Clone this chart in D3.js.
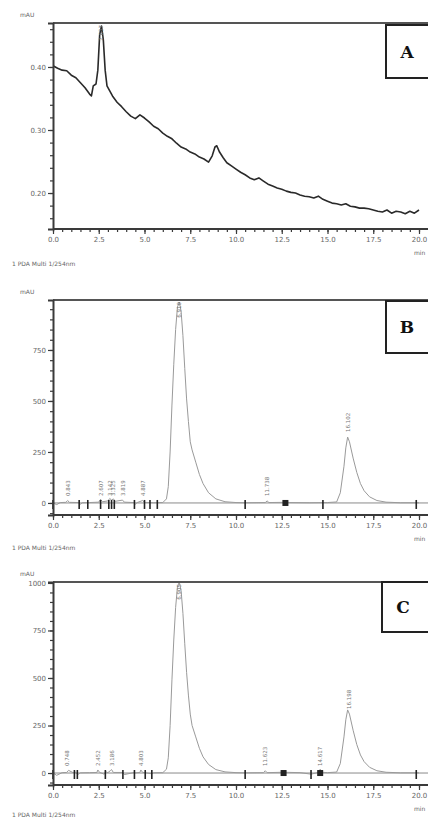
<!DOCTYPE html>
<html><head><meta charset="utf-8">
<script src="https://cdn.jsdelivr.net/npm/d3@7"></script>
<style>body{margin:0;background:#fff}svg{display:block}</style>
</head><body>
<script>
// ---------- DATA ----------
const timeTicks = [0, 2.5, 5, 7.5, 10, 12.5, 15, 17.5, 20];
const timeTickLabels = ["0.0","2.5","5.0","7.5","10.0","12.5","15.0","17.5","20.0"];

const timeA = [0,0.25,0.5,0.75,1,1.25,1.5,1.75,2,2.1,2.2,2.35,2.45,2.55,2.65,2.75,2.85,2.95,3.1,3.25,3.5,3.75,4,4.25,4.5,4.75,5,5.25,5.5,5.75,6,6.25,6.5,6.75,7,7.25,7.5,7.75,8,8.25,8.5,8.7,8.85,8.95,9.1,9.3,9.5,9.75,10,10.25,10.5,10.75,11,11.25,11.5,11.75,12,12.25,12.5,12.75,13,13.25,13.5,13.75,14,14.25,14.5,14.75,15,15.25,15.5,15.75,16,16.25,16.5,16.75,17,17.25,17.5,17.75,18,18.25,18.5,18.75,19,19.25,19.5,19.75,20];
const absA = [0.402,0.398,0.395,0.394,0.387,0.383,0.375,0.367,0.357,0.354,0.370,0.373,0.395,0.451,0.465,0.443,0.395,0.370,0.362,0.354,0.344,0.337,0.329,0.322,0.318,0.324,0.319,0.313,0.306,0.302,0.295,0.290,0.286,0.279,0.273,0.270,0.265,0.262,0.257,0.254,0.249,0.259,0.273,0.275,0.265,0.256,0.248,0.243,0.238,0.233,0.229,0.224,0.221,0.224,0.219,0.214,0.211,0.208,0.206,0.203,0.201,0.200,0.197,0.195,0.194,0.192,0.195,0.190,0.187,0.184,0.183,0.181,0.183,0.179,0.178,0.176,0.176,0.175,0.173,0.171,0.170,0.173,0.168,0.171,0.170,0.167,0.171,0.168,0.173];
const yTicksA = [0.20, 0.30, 0.40];
const yTickLabelsA = ["0.20","0.30","0.40"];
const peakTimesA = [2.63];
const peakLabelsA = ["2.637"];

const timeB = [0,0.2,0.4,0.7,0.8,0.9,1.4,1.5,1.6,2.0,2.5,2.6,2.7,3.0,3.1,3.2,3.3,3.4,3.8,3.9,4.4,4.5,4.6,4.9,5.0,5.5,6.0,6.2,6.3,6.4,6.5,6.6,6.7,6.8,6.9,7.0,7.1,7.2,7.3,7.4,7.5,7.6,7.8,8.0,8.2,8.5,8.9,9.4,10.0,10.5,11.6,11.7,11.8,12.6,12.7,12.9,14.0,15.0,15.5,15.7,15.9,16.0,16.1,16.2,16.4,16.6,16.8,17.0,17.3,17.7,18.2,19.0,20.0];
const absB = [0,-8,2,3,12,3,2,-6,1,2,4,18,6,10,22,14,20,8,14,4,2,-6,2,12,3,1,2,20,80,250,480,680,850,960,985,940,820,660,510,400,300,260,200,140,95,50,20,6,2,1,2,10,2,3,6,2,1,2,5,50,180,270,323,300,220,150,95,60,30,12,4,1,1];
const yTicksB = [0, 250, 500, 750];
const peakTimesB = [0.8, 2.6, 3.1, 3.3, 3.8, 4.9, 6.9, 11.7, 16.1];
const peakLabelsB = ["0.843","2.607","3.142","3.325","3.819","4.887","6.910","11.738","16.102"];
const markerTimesB = [0, 1.43, 1.9, 2.6, 3.05, 3.2, 3.35, 4.45, 5.0, 5.3, 5.7, 10.5, 14.75, 19.85];
const blobTimesB = [12.7];

const timeC = [0,0.2,0.5,0.75,0.85,1.1,1.2,1.35,1.5,2.0,2.4,2.45,2.55,2.8,2.9,3.0,3.15,3.2,3.3,3.8,3.9,4.4,4.5,4.75,4.8,4.9,5.0,5.4,5.5,6.0,6.2,6.3,6.4,6.5,6.6,6.7,6.8,6.9,7.0,7.1,7.2,7.3,7.4,7.5,7.6,7.8,8.0,8.2,8.5,8.9,9.4,10.0,10.5,11.5,11.6,11.7,12.6,13.5,14.1,14.5,14.6,14.7,15.0,15.5,15.7,15.9,16.0,16.1,16.2,16.4,16.6,16.8,17.0,17.3,17.7,18.2,19.0,20.0];
const absC = [0,-12,2,3,14,2,8,-8,1,2,3,16,3,-6,6,2,14,18,3,3,-8,2,1,3,16,3,2,-4,1,2,20,80,250,490,700,870,980,1005,960,840,680,530,410,310,250,190,130,85,45,18,6,2,1,2,12,2,4,2,-6,3,20,4,2,5,50,190,280,332,310,225,150,95,60,30,12,4,1,1];
const yTicksC = [0, 250, 500, 750, 1000];
const peakTimesC = [0.75, 2.45, 3.2, 4.8, 6.9, 11.6, 14.6, 16.2];
const peakLabelsC = ["0.748","2.452","3.186","4.803","6.905","11.623","14.617","16.198"];
const markerTimesC = [0, 1.17, 1.33, 2.86, 3.82, 4.45, 5.04, 5.4, 10.5, 14.1, 19.85];
const blobTimesC = [12.6, 14.6];

const panelLetters = ["A","B","C"];
const detectorLabel = "1 PDA Multi 1/254nm";
const yUnit = "mAU";
const xUnit = "min";

// ---------- DRAW ----------
const W = 428, H = 820;
const svg = d3.select("body").append("svg").attr("width", W).attr("height", H);
const font = "'DejaVu Sans', Arial, sans-serif";
const axisCol = "#3a3a3a", labCol = "#666";

const panels = [
  {letter: panelLetters[0], t: timeA, v: absA, top: 23, bottom: 229, dom: [0.1429, 0.4698],
   yt: yTicksA, ytl: yTickLabelsA, minorStep: 0.02, trace: "#2a2a2a", tw: 1.6, baseline: false,
   pk: peakTimesA, pkl: peakLabelsA, mk: [], blob: [], letterBox: [386, 25, 52, 53], unitY: 17, detY: 266},
  {letter: panelLetters[1], t: timeB, v: absB, top: 300, bottom: 515, dom: [-59, 995],
   yt: yTicksB, ytl: yTicksB.map(String), minorStep: 50, trace: "#9a9a9a", tw: 1, baseline: true,
   pk: peakTimesB, pkl: peakLabelsB, mk: markerTimesB, blob: blobTimesB, letterBox: [386, 301, 52, 52], unitY: 294, detY: 550},
  {letter: panelLetters[2], t: timeC, v: absC, top: 582, bottom: 785, dom: [-63, 1005],
   yt: yTicksC, ytl: yTicksC.map(String), minorStep: 50, trace: "#9a9a9a", tw: 1, baseline: true,
   pk: peakTimesC, pkl: peakLabelsC, mk: markerTimesC, blob: blobTimesC, letterBox: [382, 582, 56, 50], unitY: 576, detY: 817}
];

panels.forEach((p, idx) => {
  const g = svg.append("g");
  const x = d3.scaleLinear().domain([0, 20]).range([53, 419]);
  const y = d3.scaleLinear().domain(p.dom).range([p.bottom, p.top]);

  const clipId = "clip" + idx;
  svg.append("clipPath").attr("id", clipId).append("rect")
    .attr("x", 53).attr("y", p.top).attr("width", W - 53).attr("height", p.bottom - p.top);

  if (p.baseline) {
    g.append("line").attr("x1", 53).attr("x2", W).attr("y1", y(0)).attr("y2", y(0))
      .attr("stroke", "#8a8a8a").attr("stroke-width", 1);
  }

  const data = p.t.map((t, i) => [t, p.v[i]]);
  g.append("path").datum(data)
    .attr("clip-path", `url(#${clipId})`)
    .attr("d", d3.line().x(d => x(d[0])).y(d => y(d[1])))
    .attr("fill", "none").attr("stroke", p.trace).attr("stroke-width", p.tw)
    .attr("stroke-linejoin", "round");

  p.mk.forEach(t => {
    g.append("line").attr("x1", x(t)).attr("x2", x(t)).attr("y1", y(0) - 3).attr("y2", y(0) + 6)
      .attr("stroke", "#222").attr("stroke-width", 1.6);
  });
  p.blob.forEach(t => {
    g.append("rect").attr("x", x(t) - 3).attr("y", y(0) - 3).attr("width", 6).attr("height", 6)
      .attr("fill", "#222");
  });

  p.pk.forEach((t, i) => {
    let idxNear = d3.leastIndex(p.t, tt => Math.abs(tt - t));
    const val = p.v[idxNear];
    const yy = y(val);
    let anchorY, anchor;
    if (yy - 22 < p.top) { anchorY = p.top + 2; anchor = "end"; }
    else { anchorY = Math.min(yy, y(0)) - 5; anchor = "start"; }
    if (p.baseline && val < 60) { anchorY = y(0) - 7; anchor = "start"; }
    g.append("text").attr("transform", `translate(${x(t) + 2},${anchorY}) rotate(-90)`)
      .attr("text-anchor", anchor).attr("font-family", font).attr("font-size", 5.5)
      .attr("fill", "#777").text(p.pkl[i]);
  });

  g.append("line").attr("x1", 53).attr("x2", W).attr("y1", p.top).attr("y2", p.top)
    .attr("stroke", "#555").attr("stroke-width", 2);

  const xMinor = d3.range(0, 20.01, 0.5);
  g.append("g").attr("transform", `translate(0,${p.bottom})`)
    .call(d3.axisBottom(x).tickValues(xMinor).tickSize(3).tickFormat(""))
    .call(s => { s.select(".domain").remove(); s.selectAll("line").attr("stroke", axisCol).attr("stroke-width", 1.2); });
  g.append("g").attr("transform", `translate(0,${p.bottom})`)
    .call(d3.axisBottom(x).tickValues(timeTicks).tickSize(5).tickPadding(3)
      .tickFormat((d, i) => timeTickLabels[i]))
    .call(s => {
      s.select(".domain").remove();
      s.selectAll("line").attr("stroke", axisCol).attr("stroke-width", 1.2);
      s.selectAll("text").attr("font-family", font).attr("font-size", 7).attr("fill", labCol);
    });
  g.append("line").attr("x1", 53).attr("x2", W).attr("y1", p.bottom).attr("y2", p.bottom)
    .attr("stroke", axisCol).attr("stroke-width", 2.2);

  const yMinor = d3.range(Math.ceil(p.dom[0] / p.minorStep) * p.minorStep, p.dom[1], p.minorStep);
  g.append("g").attr("transform", "translate(53,0)")
    .call(d3.axisLeft(y).tickValues(yMinor).tickSize(3).tickFormat(""))
    .call(s => { s.select(".domain").remove(); s.selectAll("line").attr("stroke", axisCol).attr("stroke-width", 1.2); });
  g.append("g").attr("transform", "translate(53,0)")
    .call(d3.axisLeft(y).tickValues(p.yt).tickSize(5).tickPadding(2)
      .tickFormat((d, i) => p.ytl[i]))
    .call(s => {
      s.select(".domain").attr("stroke", axisCol).attr("stroke-width", 2);
      s.selectAll("line").attr("stroke", axisCol).attr("stroke-width", 1.2);
      s.selectAll("text").attr("font-family", font).attr("font-size", 7).attr("fill", labCol);
    });

  g.append("text").attr("x", 20).attr("y", p.unitY).attr("font-family", font).attr("font-size", 6)
    .attr("fill", labCol).text(yUnit);
  g.append("text").attr("x", 414).attr("y", p.bottom + 26).attr("font-family", font).attr("font-size", 6)
    .attr("fill", labCol).text(xUnit);
  g.append("text").attr("x", 12).attr("y", p.detY).attr("font-family", font).attr("font-size", 6)
    .attr("fill", labCol).text(detectorLabel);

  const [bx, by, bw, bh] = p.letterBox;
  g.append("rect").attr("x", bx).attr("y", by).attr("width", bw).attr("height", bh)
    .attr("fill", "#fff").attr("stroke", "#222").attr("stroke-width", 2);
  g.append("text").attr("x", bx + 21).attr("y", by + bh / 2 + 6)
    .attr("text-anchor", "middle").attr("font-family", "'DejaVu Serif', 'Liberation Serif', serif")
    .attr("font-weight", "bold").attr("font-size", 17).attr("fill", "#111").text(p.letter);
});
</script>
</body></html>
